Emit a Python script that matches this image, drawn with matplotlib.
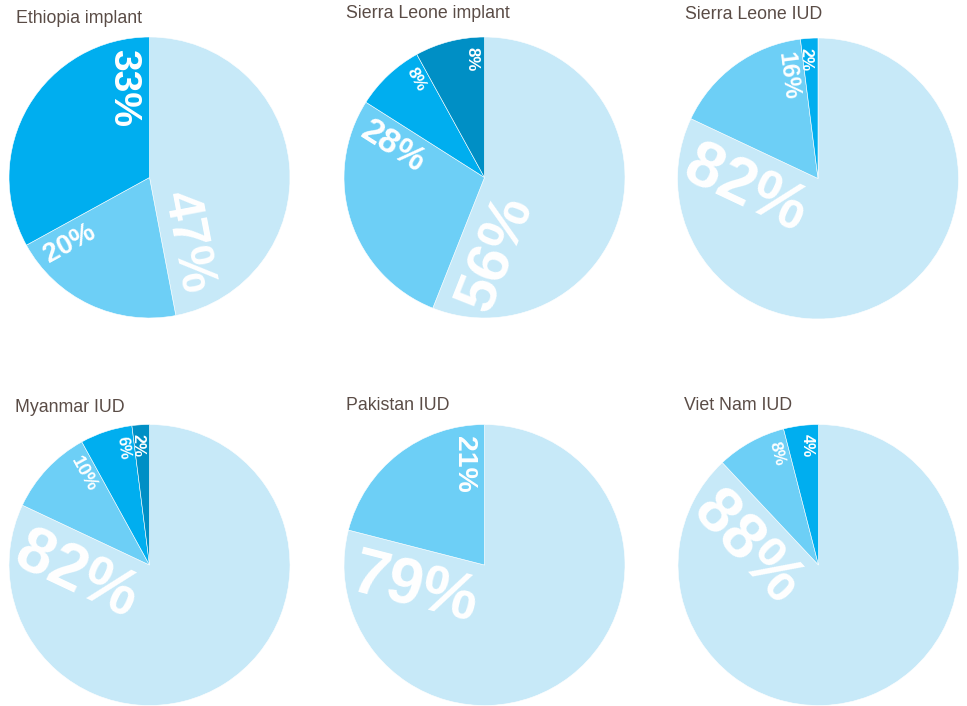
import numpy as np
import matplotlib
matplotlib.use("Agg")
import matplotlib.pyplot as plt

# share of clients by source, one pie per country / method
titles = ["Ethiopia implant", "Sierra Leone implant", "Sierra Leone IUD",
          "Myanmar IUD", "Pakistan IUD", "Viet Nam IUD"]
ethiopia_implant = [47, 20, 33]
sierra_leone_implant = [56, 28, 8, 8]
sierra_leone_iud = [82, 16, 2]
myanmar_iud = [82, 10, 6, 2]
pakistan_iud = [79, 21]
viet_nam_iud = [88, 8, 4]
shares = [ethiopia_implant, sierra_leone_implant, sierra_leone_iud,
          myanmar_iud, pakistan_iud, viet_nam_iud]

colors = ["#C7E9F8", "#6DCFF6", "#00AEEF", "#008FC5"]
title_color = "#5A4C46"

W, H = 967, 706
fig = plt.figure(figsize=(W / 100, H / 100), dpi=100)
fig.patch.set_facecolor("white")

R = 140.5  # pie radius in pixels
centers = [(149.5, 177.5), (484.5, 177.5), (818, 178.5),
           (149.5, 565), (484.5, 565), (818.5, 565)]
title_xy = [(16, 23), (346, 18.5), (685, 19), (15, 411.5), (346, 409.5), (684, 410.5)]

PT = 72 / 100  # points per pixel


def label_size(v):
    return float(np.clip(7 + 0.64 * v, 11.5, 46))


for vals, title, (cx, cy), (tx, ty) in zip(shares, titles, centers, title_xy):
    ax = fig.add_axes([(cx - R) / W, 1 - (cy + R) / H, 2 * R / W, 2 * R / H])
    wedges, _ = ax.pie(vals, colors=colors[:len(vals)], startangle=90,
                       counterclock=False, radius=1,
                       wedgeprops=dict(edgecolor="white", linewidth=0.4))
    ax.set_xlim(-1, 1)
    ax.set_ylim(-1, 1)
    ax.axis("off")

    for w, v in zip(wedges, vals):
        a = ((w.theta1 + 180) % 360) - 180
        fs = label_size(v)
        em = fs / PT
        gap = 0.17 * em + 2
        if -90 <= a < 90:
            # text runs outward along the ray
            rot, ha, r, d = a, "right", 0.87, gap
        else:
            # text runs inward along the ray, small labels sit nearer the rim
            rot = a - 180 if a >= 90 else a + 180
            ha, r, d = "left", 0.945 - 0.0012 * fs, gap + 0.716 * em
        ar = np.deg2rad(a)
        pr = np.deg2rad(a + 90)
        ax.annotate(f"{v}%", xy=(r * np.cos(ar), r * np.sin(ar)),
                    xytext=(d * PT * np.cos(pr), d * PT * np.sin(pr)),
                    textcoords="offset points", rotation=rot,
                    rotation_mode="anchor", ha=ha, va="baseline",
                    fontsize=fs, fontweight="bold", color="white",
                    family="Liberation Sans")

    fig.text(tx / W, 1 - ty / H, title, fontsize=12.8, color=title_color,
             family="Liberation Sans", ha="left", va="baseline")

fig.savefig("out.png", dpi=100)
